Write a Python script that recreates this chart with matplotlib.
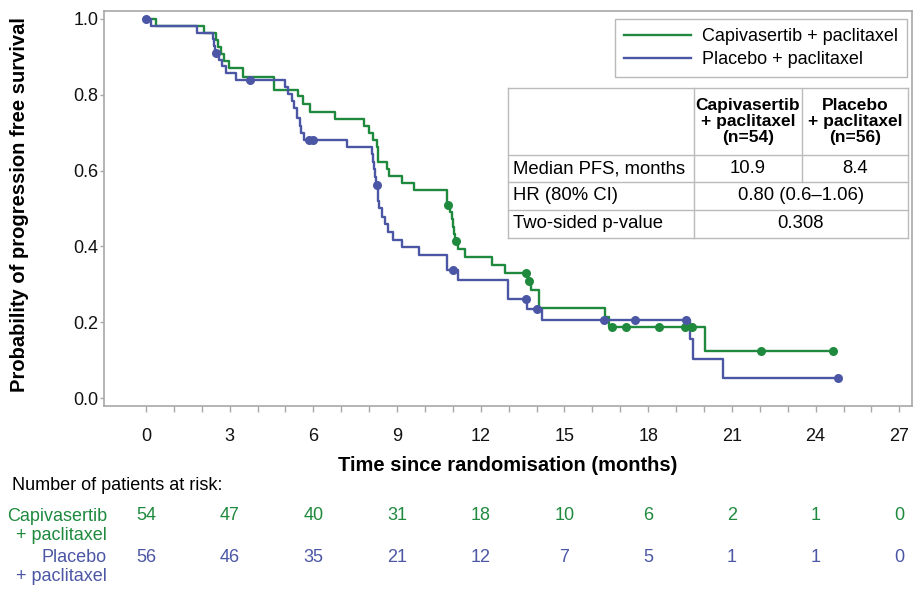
import numpy as np
import matplotlib
matplotlib.use('Agg')
import matplotlib.pyplot as plt
from matplotlib import font_manager as fm
from matplotlib.lines import Line2D

names = {f.name for f in fm.fontManager.ttflist}
REG = 'Liberation Sans' if 'Liberation Sans' in names else 'DejaVu Sans'
plt.rcParams['font.family'] = [REG, 'DejaVu Sans']

GREEN = '#1f8a3e'
BLUE = '#4b56a5'
GRAY = '#a8a8a8'

# ---------------- data ----------------
cap_label = 'Capivasertib + paclitaxel'
pla_label = 'Placebo + paclitaxel'

cap_times = [0.36, 2.08, 2.52, 2.58, 2.68, 2.80, 2.97, 3.49, 4.60, 5.46, 5.61, 5.88,
             6.77, 7.82, 8.00, 8.15, 8.27, 8.33, 8.65, 8.70, 9.18, 9.59, 10.79,
             10.90, 10.95, 11.00, 11.05, 11.08, 11.20, 11.45, 12.39, 12.87, 13.68,
             13.80, 14.10, 16.45, 16.60, 20.04]
cap_surv = [0.981, 0.963, 0.944, 0.926, 0.907, 0.889, 0.870, 0.848, 0.813, 0.796, 0.776, 0.755,
            0.736, 0.717, 0.698, 0.680, 0.661, 0.624, 0.605, 0.586, 0.568, 0.549, 0.508,
            0.492, 0.472, 0.452, 0.432, 0.413, 0.392, 0.373, 0.351, 0.329, 0.310,
            0.285, 0.238, 0.214, 0.188, 0.125]
cap_censor = [10.84, 11.12, 13.62, 13.74, 16.69, 17.19, 18.39, 19.32, 19.56, 22.04, 24.63]

pla_times = [0.17, 1.82, 2.40, 2.45, 2.48, 2.62, 2.72, 2.87, 3.23, 4.98, 5.10, 5.22,
             5.30, 5.42, 5.52, 5.55, 5.67, 7.21, 8.09, 8.14, 8.18, 8.22, 8.25, 8.30,
             8.33, 8.36, 8.45, 8.57, 8.68, 8.86, 9.16, 9.78, 10.79, 11.17, 12.97,
             13.65, 14.20, 19.50, 19.60, 20.67]
pla_surv = [0.982, 0.964, 0.946, 0.929, 0.911, 0.893, 0.875, 0.857, 0.839, 0.820, 0.802, 0.784,
            0.765, 0.740, 0.718, 0.698, 0.682, 0.661, 0.645, 0.624, 0.603, 0.583, 0.562, 0.541,
            0.520, 0.500, 0.478, 0.459, 0.439, 0.418, 0.399, 0.377, 0.339, 0.311, 0.261,
            0.235, 0.206, 0.155, 0.103, 0.052]
pla_censor = [0.0, 2.50, 3.73, 5.85, 5.97, 8.27, 11.00, 13.62, 14.02, 16.40, 17.53, 19.35, 24.80]

risk_times = [0, 3, 6, 9, 12, 15, 18, 21, 24, 27]
cap_risk = [54, 47, 40, 31, 18, 10, 6, 2, 1, 0]
pla_risk = [56, 46, 35, 21, 12, 7, 5, 1, 1, 0]

table_cols = ['Capivasertib\n+ paclitaxel\n(n=54)', 'Placebo\n+ paclitaxel\n(n=56)']
median_pfs = ['10.9', '8.4']
hr_text = '0.80 (0.6–1.06)'
p_text = '0.308'

# ---------------- figure ----------------
W, H = 919, 591
fig = plt.figure(figsize=(W / 100, H / 100), dpi=100)

def fx(px):
    return px / W

def fy(py):
    return 1 - py / H

ax = fig.add_axes([fx(104), fy(406), fx(912) - fx(104), fy(11) - fy(406)])


def surv_at(times, surv, t):
    idx = np.searchsorted(times, t, side='right')
    return 1.0 if idx == 0 else surv[idx - 1]


for times, surv, cens, col in [(cap_times, cap_surv, cap_censor, GREEN),
                               (pla_times, pla_surv, pla_censor, BLUE)]:
    end = max(cens[-1], times[-1])
    xs = [0.0] + list(times) + [end]
    ys = [1.0] + list(surv) + [surv[-1]]
    ax.step(xs, ys, where='post', color=col, lw=1.7, zorder=3)
    cy = [surv_at(times, surv, c) for c in cens]
    ax.plot(cens, cy, 'o', color=col, ms=6.5, mec='none', zorder=4)

ax.set_xlim(-1.505, 27.455)
ax.set_ylim(-0.0211, 1.0211)
ax.set_xticks(risk_times)
ax.set_xticks(np.arange(0, 28, 1), minor=True)
ax.set_yticks(np.arange(0, 1.01, 0.2))
ax.set_yticklabels([f'{v:.1f}' for v in np.arange(0, 1.01, 0.2)])
for s in ax.spines.values():
    s.set_color(GRAY)
    s.set_linewidth(1.2)
ax.tick_params(axis='both', which='both', direction='out', color=GRAY, width=1.0,
               labelsize=13, labelcolor='#111111')
ax.tick_params(axis='x', which='major', length=4, pad=12)
ax.tick_params(axis='x', which='minor', length=4)
ax.tick_params(axis='y', which='major', length=3, pad=1)

ax.set_xlabel('Time since randomisation (months)', fontsize=14.5, fontweight='bold',
              labelpad=8)
fig.text(fx(20), fy(205), 'Probability of progression free survival', rotation=90,
         fontsize=14.5, fontweight='bold', ha='center', va='center')

# legend
handles = [Line2D([], [], color=GREEN, lw=1.7), Line2D([], [], color=BLUE, lw=1.7)]
leg = fig.legend(handles, [cap_label, pla_label], loc='upper right',
                 bbox_to_anchor=(fx(907), fy(19)), frameon=True, fancybox=False,
                 fontsize=13, handlelength=3.7, labelspacing=0.35, borderaxespad=0,
                 borderpad=0.5, handletextpad=0.6)
leg.get_frame().set_edgecolor(GRAY)
leg.get_frame().set_linewidth(1.0)

# stats table
tx = [508, 694, 802, 908]
ty = [88, 155, 182, 210, 238]
tc = '#bbbbbb'

def hline(x0, x1, y):
    fig.add_artist(Line2D([fx(x0), fx(x1)], [fy(y), fy(y)], color=tc, lw=1.0))

def vline(x, y0, y1):
    fig.add_artist(Line2D([fx(x), fx(x)], [fy(y0), fy(y1)], color=tc, lw=1.0))

for y in ty:
    hline(tx[0], tx[3], y)
vline(tx[0], ty[0], ty[4])
vline(tx[3], ty[0], ty[4])
vline(tx[1], ty[0], ty[4])
vline(tx[2], ty[0], ty[2])

for i, txt in enumerate(table_cols):
    cx = (tx[1 + i] + tx[2 + i]) / 2
    fig.text(fx(cx), fy((ty[0] + ty[1]) / 2), txt, ha='center', va='center',
             fontsize=12.5, fontweight='bold', linespacing=1.05)
    fig.text(fx(cx), fy((ty[1] + ty[2]) / 2), median_pfs[i], ha='center',
             va='center', fontsize=13.3)
row_labels = ['Median PFS, months', 'HR (80% CI)', 'Two-sided p-value']
for j, lab in enumerate(row_labels):
    fig.text(fx(tx[0] + 5), fy((ty[1 + j] + ty[2 + j]) / 2), lab, ha='left',
             va='center', fontsize=13.3)
fig.text(fx((tx[1] + tx[3]) / 2), fy((ty[2] + ty[3]) / 2), hr_text, ha='center',
         va='center', fontsize=13.3)
fig.text(fx((tx[1] + tx[3]) / 2), fy((ty[3] + ty[4]) / 2), p_text, ha='center',
         va='center', fontsize=13.3)

# number at risk
fig.text(fx(12), fy(485), 'Number of patients at risk:', ha='left', va='center',
         fontsize=13)
fig.text(fx(107), fy(526), 'Capivasertib\n+ paclitaxel', ha='right', va='center',
         fontsize=13, color=GREEN, linespacing=1.15)
fig.text(fx(107), fy(567), 'Placebo\n+ paclitaxel', ha='right', va='center',
         fontsize=13, color=BLUE, linespacing=1.15)
for t, c, p in zip(risk_times, cap_risk, pla_risk):
    xd = ax.transData.transform((t, 0))[0]
    fig.text(xd / W, fy(516), str(c), ha='center', va='center', fontsize=13,
             color=GREEN)
    fig.text(xd / W, fy(557), str(p), ha='center', va='center', fontsize=13,
             color=BLUE)

fig.savefig('out.png', dpi=100)
